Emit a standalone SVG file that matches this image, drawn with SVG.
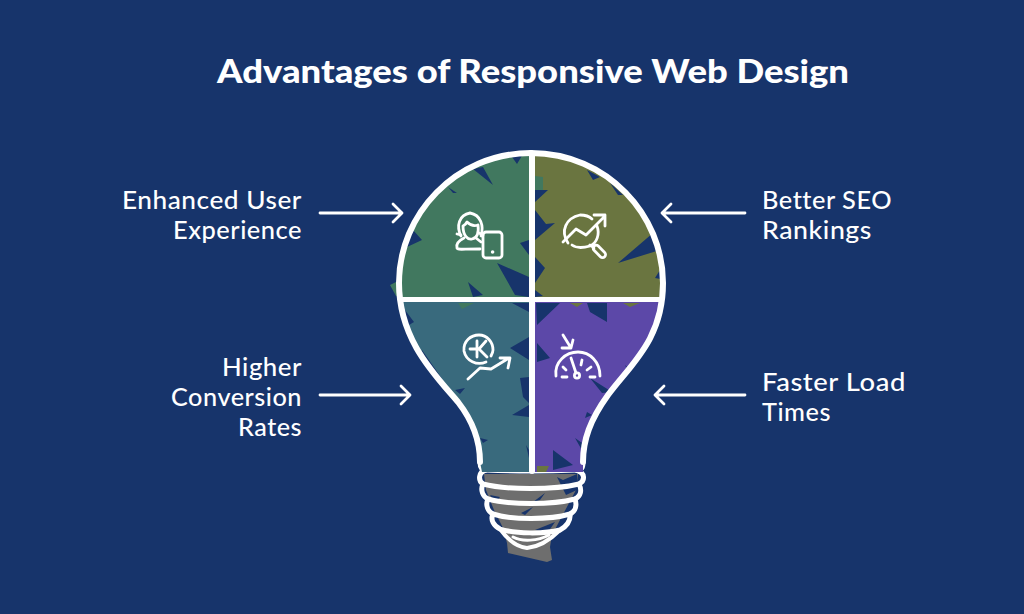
<svg xmlns="http://www.w3.org/2000/svg" width="1024" height="614" viewBox="0 0 1024 614">
<defs>
<clipPath id="bulbClip"><path d="M531 153C455 153 399 215 399 283C399 340 435 375 458 402C472 420 480 440 480 462L482 472L583 472L583 462C583 440 590 420 608 395C630 365 663 340 663 283C663 215 607 153 531 153Z"/></clipPath>
</defs>
<style>
.t{font-family:"Lato","Open Sans","Liberation Sans",sans-serif;fill:#fff}
.lb{font-size:24px;letter-spacing:.5px;font-weight:500}
.ti{font-size:33px;font-weight:900}
.n{fill:#17346b}
.ln{fill:none;stroke:#fff;stroke-linecap:round;stroke-linejoin:round}
.o{stroke-width:6}
.i{stroke-width:2.8}
.a{stroke-width:2.8}
.th{stroke-width:5}
</style>
<rect width="1024" height="614" fill="#17346b"/>
<text id="title" class="t ti" x="217" y="83" textLength="632" lengthAdjust="spacingAndGlyphs">Advantages of Responsive Web Design</text>

<g id="base">
<path fill="#6e6e6e" d="M484 474H578L576 490L568 505L560 520L552 535L550 547L552 560L547 562L508 553L507 543L503 528L494 510L486 490Z"/>
<path class="n" d="M557 477L563 480L577 474L577 490L566 495ZM533 502L545 493L540 500ZM521 513L533 507L525 515ZM562 520L572 512L570 526ZM490 495L500 497L495 503ZM535 530L555 522L548 532Z"/>
<path class="ln th" d="M480 462C480 468 482 470 486 470C510 471 552 471 576 470C582 470 583 468 583 462"/>
<path class="ln th" d="M486 470C478 472 478 481 483 484C505 490 555 490 579 484C585 481 586 473 576 470"/>
<path class="ln th" d="M483 484C480 490 483 497 488 499C510 505 552 505 575 499C581 496 582 490 579 484"/>
<path class="ln th" d="M488 499C485 505 488 512 493 514C512 520 550 520 570 514C576 511 577 505 575 499"/>
<path class="ln th" d="M493 514C490 520 494 526 500 529C515 534 545 534 560 530C566 527 571 521 570 514"/>
<path class="ln" stroke-width="4" d="M500 529C508 540 516 547 527 548C538 547 550 540 560 530"/>
<path class="ln" stroke-width="3" d="M513 537C522 542 538 541 549 535"/>
</g>

<g id="quadrant-user">
<path fill="#41785f" d="M390 285L400 280L400 297L396 296Z"/>
<g clip-path="url(#bulbClip)">
<rect x="395" y="150" width="136" height="150" fill="#41785f"/>
<path class="n" d="M512 157L523 154L517 164ZM473 169L483 167L493 185ZM448 187L457 193L453 193ZM413 230L422 240L407 247L405 240ZM520 243L529 240L529 255ZM497 263L529 277L529 297L515 295ZM468 282L483 295L473 297Z"/>
</g>
<path class="ln i" d="M461 236C456 226 459 215 470 213C481 215 484 226 481 236"/>
<path class="ln i" d="M463 226C463 236 468 240 472 239C477 238 479 233 478 225C473 227 469 224 467 222C466 224 465 225 463 226Z"/>
<path class="ln i" d="M461 235L457 234M479 233L483 235"/>
<path class="ln i" d="M464 238C458 241 456 245 457 248C458 250 460 249 480 249M476 238L481 242"/>
<rect class="ln i" x="483" y="232" width="19" height="26" rx="3"/>
<circle cx="492.600" cy="252" r="1.800" fill="#fff"/>
</g>

<g id="quadrant-seo">
<g clip-path="url(#bulbClip)">
<rect x="531" y="150" width="136" height="150" fill="#6a7540"/>
<path fill="#41785f" d="M535 176L543 177L543 190L535 197Z"/>
<path class="n" d="M587 170L600 177L593 180ZM610 183L623 195L618 195ZM653 233L618 263L660 250L665 252L665 225ZM535 190L548 190L535 202ZM535 210L546 224L555 223L535 240ZM535 257L545 268L535 283ZM535 290L543 296L535 297ZM655 278L660 270L665 280Z"/>
</g>
<path class="ln i" d="M568 243C560 231 566 218 580 215C585 215 589 216 592 219M597 226C600 234 597 243 590 246C583 248 576 248 572 245"/>
<path class="ln i" d="M563 242L576 229L586 235L605 216M594 215H605V226"/>
<rect class="ln i" x="596" y="244" width="6" height="15" rx="3" transform="rotate(-45 599 251)"/>
<path class="ln i" d="M590 245L594 248"/>
</g>

<g id="quadrant-conversion">
<g clip-path="url(#bulbClip)">
<rect x="395" y="300" width="136" height="175" fill="#396a7d"/>
<path fill="#41785f" d="M458 303H474L462 309Z"/>
<path class="n" d="M512 303L529 303L529 312ZM405 310L414 322L409 325L400 320ZM422 350L443 380L435 373L420 360ZM455 390L465 388L460 394ZM510 348L529 337L529 360ZM520 378L529 377L529 403L523 397ZM512 415L529 405L529 417ZM480 438L488 440L483 443ZM526 445L529 450L529 458Z"/>
</g>
<path class="ln i" d="M486 362C477 366 466 361 464 351C463 341 471 335 479 335C487 335 493 342 493 350C493 352 492 354 491 356"/>
<path class="ln i" d="M477 341V357M470 349H477M486 341L479 349L487 357"/>
<path class="ln i" d="M468 379L480 368L491 369L509 358M500 358H510L508 368"/>
</g>

<g id="quadrant-load">
<g clip-path="url(#bulbClip)">
<rect x="531" y="300" width="136" height="175" fill="#5c48a8"/>
<path class="n" d="M536 303L560 303L537 325ZM587 303L607 303L607 322L590 312ZM537 343L550 358L537 362ZM590 378L612 392L602 393ZM625 365L633 372L630 375ZM553 450L573 465L553 470ZM587 412L592 415L585 418ZM575 438L585 445L583 452Z"/>
<path fill="#6a7540" d="M570 303H583L577 307ZM623 303H640L630 307ZM537 466H549L546 472H537Z"/>
</g>
<path class="ln i" d="M556 376C554 362 566 352 578 352C590 352 600 362 600 376"/>
<path class="ln i" d="M571 358L576 373M563 367L566 370M582 360L581 365M591 367L587 370M562 377H567M590 377H595"/>
<circle class="ln i" cx="577" cy="375.500" r="2.600"/>
<path class="ln i" d="M563 335L571 348M562 348H571L573 340"/>
</g>

<g id="bulb-outline">
<path class="ln o" d="M531 153C455 153 399 215 399 283C399 340 435 375 458 402C472 420 480 440 480 462"/>
<path class="ln o" d="M531 153C607 153 663 215 663 283C663 340 630 365 608 395C590 420 583 440 583 462"/>
<path class="ln" stroke-width="5" d="M401 299.500H661"/>
<path class="ln" stroke-width="6" d="M532 154V471"/>
</g>

<g id="connectors">
<path class="ln a" d="M320 213H402M393 204L402 213L393 222"/>
<path class="ln a" d="M320 395H410M401 386L410 395L401 404"/>
<path class="ln a" d="M745 213H662M671 204L662 213L671 222"/>
<path class="ln a" d="M745 395H655M664 386L655 395L664 404"/>
</g>

<g id="labels">
<text class="t lb" x="122" y="209" textLength="180" lengthAdjust="spacingAndGlyphs">Enhanced User</text>
<text class="t lb" x="173" y="239" textLength="129" lengthAdjust="spacingAndGlyphs">Experience</text>
<text class="t lb" x="762" y="209" textLength="130" lengthAdjust="spacingAndGlyphs">Better SEO</text>
<text class="t lb" x="762" y="239" textLength="110" lengthAdjust="spacingAndGlyphs">Rankings</text>
<text class="t lb" x="222" y="376" textLength="80" lengthAdjust="spacingAndGlyphs">Higher</text>
<text class="t lb" x="171" y="406" textLength="131" lengthAdjust="spacingAndGlyphs">Conversion</text>
<text class="t lb" x="238" y="436" textLength="64" lengthAdjust="spacingAndGlyphs">Rates</text>
<text class="t lb" x="762" y="391" textLength="144" lengthAdjust="spacingAndGlyphs">Faster Load</text>
<text class="t lb" x="762" y="421" textLength="69" lengthAdjust="spacingAndGlyphs">Times</text>
</g>
</svg>
